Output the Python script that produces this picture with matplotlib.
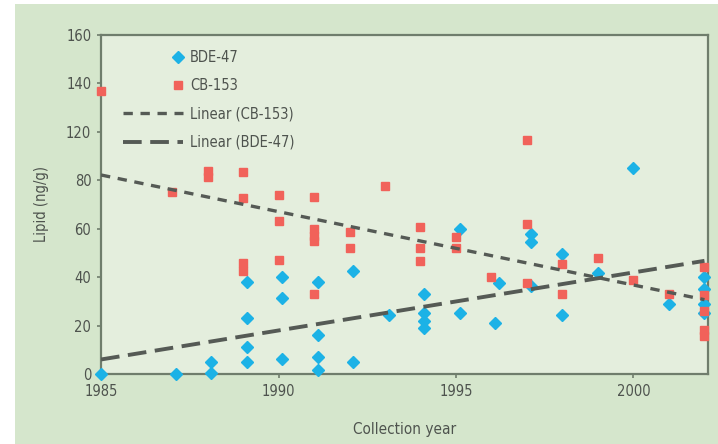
import matplotlib
matplotlib.use("Agg")
import matplotlib.pyplot as plt
from matplotlib.patches import Rectangle
from matplotlib.legend_handler import HandlerLine2D
from matplotlib import font_manager
import numpy as np

# data (y axis is physically 0-140, labels as printed)
bde_year = [1985, 1987.1, 1988.1, 1988.1, 1989.1, 1989.1, 1989.1, 1989.1,
            1990.1, 1990.1, 1990.1, 1991.1, 1991.1, 1991.1, 1991.1, 1992.1, 1992.1,
            1993.1, 1994.1, 1994.1, 1994.1, 1994.1, 1995.1, 1995.1, 1996.1, 1996.2,
            1997.1, 1997.1, 1997.1, 1998, 1998, 1999, 2000, 2001, 2002, 2002, 2002, 2002]
bde_val = [0, 0, 5, 0.5, 38, 23, 11, 5,
           40, 31.5, 6, 38, 16, 7, 1.5, 42.5, 5,
           24.5, 33, 25, 22, 19, 60, 25, 21, 37.5,
           58, 54.5, 36.5, 49.5, 24.5, 41.5, 85, 29, 40, 35, 29, 25]

cb_year = [1985, 1987, 1988, 1988, 1989, 1989, 1989, 1989, 1990, 1990, 1990,
           1991, 1991, 1991, 1991, 1991, 1992, 1992, 1993, 1994, 1994, 1994,
           1995, 1995, 1996, 1997, 1997, 1997, 1998, 1998, 1999, 2000, 2001,
           2002, 2002, 2002, 2002, 2002]
cb_val = [117, 75, 84, 81.5, 83.5, 72.5, 46, 42.5, 74, 63, 47,
          73, 60, 57, 55, 33, 58.5, 52, 77.5, 60.5, 52, 46.5,
          56.5, 52, 40, 96.5, 62, 37.5, 45.5, 33, 48, 39, 33,
          44, 32.5, 26, 18, 15.5]

y_ticks = [0, 20, 40, 60, 80, 100, 120, 140]
y_ticklabels = ["0", "20", "40", "60", "80", "120", "140", "160"]
x_ticks = [1985, 1990, 1995, 2000]

blue = "#1cb2e6"
red = "#f1625a"
grey = "#555a55"
txt = "#4e534e"

# narrow face if there is one, else condensed DejaVu
names = {f.name for f in font_manager.fontManager.ttflist}
if "Liberation Sans Narrow" in names:
    plt.rcParams["font.family"] = ["Liberation Sans Narrow", "DejaVu Sans"]
else:
    plt.rcParams["font.family"] = ["DejaVu Sans"]
    plt.rcParams["font.stretch"] = "condensed"

fig = plt.figure(figsize=(7.18, 4.44), dpi=100)
fig.patch.set_facecolor("white")
fig.add_artist(Rectangle((0.021, 0), 0.979, 0.991, transform=fig.transFigure,
                         facecolor="#d5e6cc", edgecolor="none", zorder=-5))

ax = fig.add_axes([0.1407, 0.1577, 0.8454, 0.7635])
ax.set_facecolor("#e4eedd")

ax.plot(bde_year, bde_val, "D", color=blue, markersize=6.5, label="BDE-47",
        clip_on=False, zorder=3)
ax.plot(cb_year, cb_val, "s", color=red, markersize=6, label="CB-153",
        clip_on=False, zorder=3)

# linear trendlines
xs = np.array([1985, 2002])
c_cb = np.polyfit(cb_year, cb_val, 1)
c_bde = np.polyfit(bde_year, bde_val, 1)
ax.plot(xs, np.polyval(c_cb, xs), color=grey, lw=2.4, dashes=(2.8, 2.3),
        label="Linear (CB-153)", zorder=4)
ax.plot(xs, np.polyval(c_bde, xs), color=grey, lw=2.8, dashes=(4.8, 2.2),
        label="Linear (BDE-47)", zorder=4)

ax.set_xlim(1985, 2002.1)
ax.set_ylim(0, 140)
ax.set_xticks(x_ticks)
ax.set_yticks(y_ticks)
ax.set_yticklabels(y_ticklabels)
ax.tick_params(direction="out", length=3, width=1.2, color="#6f7d6c",
               labelsize=10.5, labelcolor=txt, pad=4)
for s in ax.spines.values():
    s.set_color("#6f7d6c")
    s.set_linewidth(1.6)

ax.set_xlabel("Collection year", fontsize=11, color=txt, labelpad=17,
              fontweight="medium")
ax.set_ylabel("Lipid (ng/g)", fontsize=10.5, color=txt, labelpad=12)


class RightMarker(HandlerLine2D):
    # put the single marker at the right end of the handle, like the original
    def get_xdata(self, legend, xdescent, ydescent, width, height, fontsize):
        x = -xdescent + width - 0.35 * fontsize
        return np.array([x, x]), np.array([x])


h, l = ax.get_legend_handles_labels()
leg = ax.legend(h, l, loc="upper left", bbox_to_anchor=(0.036, 0.955),
                frameon=False, fontsize=10.5, handlelength=4.1, handletextpad=0.5,
                labelspacing=0.9, borderpad=0, borderaxespad=0, numpoints=1,
                handler_map={h[0]: RightMarker(numpoints=1),
                             h[1]: RightMarker(numpoints=1)})
for t in leg.get_texts():
    t.set_color(txt)

fig.savefig("out.png", dpi=100)
